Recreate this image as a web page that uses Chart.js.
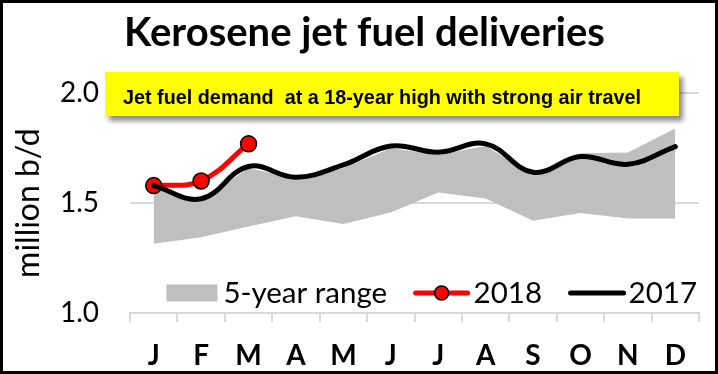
<!DOCTYPE html>
<html>
<head>
<meta charset="utf-8">
<script src="https://cdn.jsdelivr.net/npm/chart.js@4/dist/chart.umd.min.js"></script>
<style>
html,body{margin:0;padding:0;background:#fff;}
#wrap{position:relative;width:712px;height:368px;border:3px solid #000;background:#fff;overflow:hidden;}
#c{position:absolute;left:0;top:0;}
#note{position:absolute;left:102px;top:69px;width:574px;height:44px;background:#ffff00;box-shadow:4px 5px 5px rgba(0,0,0,0.45);}
#note span{position:absolute;left:18px;top:13.5px;font:bold 21px "Liberation Sans",Arial,sans-serif;line-height:21px;white-space:pre;color:#000;transform-origin:0 50%;}
</style>
</head>
<body>
<div id="wrap">
<canvas id="c" width="712" height="368"></canvas>
<div id="note"><span id="noteText">Jet fuel demand  at a 18-year high with strong air travel</span></div>
</div>
<script>
// ---- data ----
const titleText = 'Kerosene jet fuel deliveries';
const axisTitle = 'million b/d';
const noteText = 'Jet fuel demand  at a 18-year high with strong air travel';
const months = ['J','F','M','A','M','J','J','A','S','O','N','D'];
const rangeMax = [1.57, 1.51, 1.66, 1.61, 1.66, 1.75, 1.72, 1.76, 1.63, 1.727, 1.73, 1.84];
const rangeMin = [1.315, 1.345, 1.394, 1.44, 1.405, 1.457, 1.548, 1.521, 1.42, 1.455, 1.43, 1.43];
const y2018 = [1.58, 1.601, 1.77];
const y2017 = [1.58, 1.52, 1.667, 1.618, 1.674, 1.76, 1.732, 1.77, 1.641, 1.712, 1.677, 1.757];
const yTicks = [1.0, 1.5, 2.0];
const seriesNames = ['5-year range', '2018', '2017'];

async function build(){
  try { await document.fonts.load('bold 40px Lato'); await document.fonts.load('28px Lato'); await document.fonts.load('bold 21px "Liberation Sans"'); } catch(e){}
  const sp = document.getElementById('noteText');
  sp.textContent = noteText;
  const w = sp.getBoundingClientRect().width;
  sp.style.transform = 'scaleX(' + (518 / w) + ')';

  const mc = document.createElement('canvas').getContext('2d');
  mc.font = 'bold 100px Lato';
  const tw = mc.measureText(titleText).width;
  const titleSize = Math.min(42, 100 * 481 / tw);
  const padTop = 30 - 0.6 * titleSize;
  const padBottom = 90.3 - padTop - 1.2 * titleSize;

  const titleShift = {
    id: 'titleShift',
    afterLayout(chart){ if(chart.titleBlock){ chart.titleBlock.left = 27; } }
  };

  const legendPlugin = {
    id: 'customLegend',
    afterDatasetsDraw(chart){
      const ctx = chart.ctx, ca = chart.chartArea;
      ctx.save();
      ctx.font = '29.5px Lato';
      ctx.textBaseline = 'alphabetic';
      ctx.fillStyle = '#000';
      const baseY = ca.bottom - 10;
      const midY = ca.bottom - 20;
      const items = [
        {label: chart.data.datasets[0].label, kind:'box', sw:51, gap:6},
        {label: chart.data.datasets[2].label, kind:'marker', sw:56, gap:4},
        {label: chart.data.datasets[3].label, kind:'line', sw:57, gap:3}
      ];
      const between = 26.5;
      let total = 0;
      items.forEach((it,i)=>{ it.tw = ctx.measureText(it.label).width; total += it.sw + it.gap + it.tw + (i? between:0); });
      let x = ca.right - 2 - total;
      items.forEach((it,i)=>{
        if(i) x += between;
        if(it.kind==='box'){
          ctx.fillStyle = '#bfbfbf';
          ctx.fillRect(x, midY - 8.5, it.sw, 17);
        } else {
          ctx.strokeStyle = it.kind==='marker' ? '#ff0000' : '#000000';
          ctx.lineWidth = 5;
          ctx.lineCap = 'round';
          ctx.beginPath(); ctx.moveTo(x+2, midY); ctx.lineTo(x+it.sw-2, midY); ctx.stroke();
          if(it.kind==='marker'){
            ctx.beginPath(); ctx.arc(x+it.sw/2, midY, 7, 0, Math.PI*2);
            ctx.fillStyle = '#ff0000'; ctx.fill();
            ctx.lineWidth = 1.5; ctx.strokeStyle = '#000'; ctx.stroke();
          }
        }
        x += it.sw + it.gap;
        ctx.fillStyle = '#000';
        ctx.fillText(it.label, x, baseY);
        x += it.tw;
      });
      ctx.restore();
    }
  };

  new Chart(document.getElementById('c'), {
    type: 'line',
    data: {
      labels: months,
      datasets: [
        {label: seriesNames[0], data: rangeMax, fill: '+1', backgroundColor: '#bfbfbf', borderWidth: 0, borderColor: 'rgba(0,0,0,0)', pointRadius: 0, tension: 0, order: 3},
        {label: 'min', data: rangeMin, fill: false, borderWidth: 0, borderColor: 'rgba(0,0,0,0)', pointRadius: 0, tension: 0, order: 4},
        {label: seriesNames[1], data: y2018, borderColor: '#ff0000', borderWidth: 5, pointRadius: 8, pointBackgroundColor: '#ff0000', pointBorderColor: '#000', pointBorderWidth: 1.5, tension: 0.4, fill: false, order: 2},
        {label: seriesNames[2], data: y2017, borderColor: '#000', borderWidth: 5, pointRadius: 0, tension: 0.4, fill: false, order: 1, borderCapStyle: 'round'}
      ]
    },
    options: {
      responsive: false, animation: false, devicePixelRatio: 1,
      layout: {padding: {left: 0, right: 16, top: 0, bottom: 0}},
      plugins: {
        legend: {display: false},
        tooltip: {enabled: false},
        title: {display: true, text: titleText, color: '#000', font: {family: 'Lato', weight: 'bold', size: titleSize, lineHeight: 1.2}, padding: {top: padTop, bottom: padBottom}}
      },
      scales: {
        x: {
          offset: true,
          grid: {display: true, offset: true, drawOnChartArea: false, color: '#d9d9d9', lineWidth: 2, tickLength: 9},
          border: {display: true, color: '#d9d9d9', width: 2},
          ticks: {color: '#000', font: {family: 'Lato', weight: 'bold', size: 28}, padding: 17, maxRotation: 0, autoSkip: false},
          afterFit(s){ s.height = 58; }
        },
        y: {
          min: 1.0, max: 2.0,
          afterBuildTicks(s){ s.ticks = yTicks.map(v=>({value:v})); },
          ticks: {color: '#000', font: {family: 'Lato', size: 28}, padding: 31, callback: v => Number(v).toFixed(1)},
          grid: {color: '#d9d9d9', lineWidth: 2, drawTicks: false},
          border: {display: false},
          title: {display: true, text: axisTitle, color: '#000', font: {family: 'Lato', size: 32, lineHeight: 1.2}, padding: {top: 6, bottom: 0}},
          afterFit(s){ s.width = 127; }
        }
      }
    },
    plugins: [legendPlugin, titleShift]
  });
}
build();
</script>
</body>
</html>
